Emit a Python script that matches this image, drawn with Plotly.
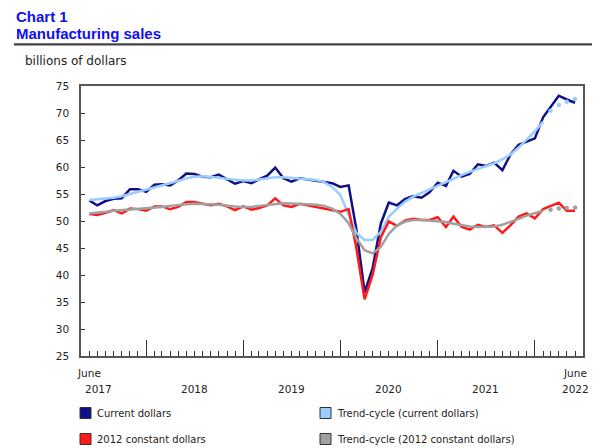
import pandas as pd
import plotly.graph_objects as go

# ---------------- data ----------------
months = pd.date_range("2017-06-01", "2022-06-01", freq="MS")

current_dollars = [
    53.8, 52.9, 53.7, 54.1, 54.2, 55.9, 55.9, 55.4, 56.7, 56.8,
    56.6, 57.5, 58.8, 58.7, 58.2, 58.1, 58.6, 57.7, 56.9, 57.4,
    57.0, 57.7, 58.4, 59.9, 57.9, 57.3, 57.9, 57.7, 57.5, 57.2,
    57.0, 56.3, 56.6, 48.5, 36.8, 41.2, 49.5, 53.4, 52.9, 54.1,
    54.6, 54.3, 55.3, 57.1, 56.5, 59.3, 58.2, 58.7, 60.5, 60.2,
    60.8, 59.4, 62.3, 64.1, 64.7, 65.3, 69.2, 71.2, 73.2, 72.5,
    71.9,
]
trend_current = [
    53.9, 54.0, 54.1, 54.3, 54.6, 55.0, 55.4, 55.8, 56.2, 56.6,
    57.0, 57.4, 57.9, 58.2, 58.3, 58.2, 58.0, 57.8, 57.6, 57.5,
    57.5, 57.7, 57.9, 58.1, 58.1, 58.0, 57.9, 57.8, 57.6, 57.2,
    56.3, 54.8, 51.2, 47.8, 46.5, 46.5, 48.0, 50.8, 52.3, 53.6,
    54.5, 55.2, 55.9, 56.5, 57.2, 57.9, 58.5, 59.1, 59.6, 60.1,
    60.7, 61.4, 62.3, 63.6, 65.0, 66.6, 68.4, 70.4, 71.5, 72.1,
    72.6,
]
constant_dollars = [
    51.3, 51.1, 51.5, 52.0, 51.4, 52.3, 52.2, 51.9, 52.7, 52.7,
    52.2, 52.6, 53.5, 53.5, 53.2, 52.9, 53.2, 52.7, 52.0, 52.7,
    52.1, 52.4, 52.9, 54.2, 52.9, 52.6, 53.2, 52.9, 52.6, 52.3,
    52.0, 51.7, 52.2, 45.0, 35.5, 40.0, 47.0, 49.9, 49.1, 50.1,
    50.4, 50.2, 50.2, 50.7, 48.9, 50.8, 48.9, 48.4, 49.3, 48.9,
    49.2, 47.8, 49.2, 50.8, 51.4, 50.5, 52.2, 52.8, 53.4, 51.9,
    51.9,
]
trend_constant = [
    51.4, 51.5, 51.7, 51.9, 52.0, 52.1, 52.2, 52.3, 52.5, 52.6,
    52.8, 53.0, 53.1, 53.2, 53.2, 53.1, 53.0, 52.8, 52.7, 52.6,
    52.6, 52.8, 53.0, 53.2, 53.3, 53.25, 53.2, 53.1, 53.0, 52.8,
    52.3, 51.3, 49.6, 46.8, 44.6, 44.0, 45.2, 47.6, 49.2, 49.9,
    50.2, 50.2, 50.1, 50.0, 49.8, 49.5, 49.2, 49.0, 48.9, 48.9,
    49.0, 49.3, 49.8, 50.4, 51.0, 51.5, 51.9, 52.1, 52.3, 52.4,
    52.5,
]
provisional_from = 57  # trend-cycle points shown dotted from this month index

series_names = ["Current dollars", "Trend-cycle (current dollars)",
                "2012 constant dollars", "Trend-cycle (2012 constant dollars)"]
year_labels = ["2017", "2018", "2019", "2020", "2021", "2022"]
year_label_dates = ["2017-07-05", "2018-07-01", "2019-07-01",
                    "2020-07-01", "2021-07-01", "2022-06-01"]
month_labels = ["June", "June"]
month_label_dates = ["2017-06-01", "2022-06-01"]

# ---------------- style ----------------
NAVY = "#0f0f87"
LIGHT = "#99ccff"
RED = "#ff1a1a"
GRAY = "#a0a0a0"
TXT = "#222222"
FONT = "DejaVu Sans"

OFF = 8  # page body margin: figure origin sits at page (8, 8)
W, H = 600 - OFF, 448 - OFF
L, R, T, B = 81 - OFF, 583 - OFF, 86 - OFF, 356 - OFF


def pxx(p):
    """page x pixel -> paper coordinate"""
    return (p - OFF - L) / (R - L)


def pyy(p):
    """page y pixel -> paper coordinate"""
    return (B - (p - OFF)) / (B - T)


fig = go.Figure()

fig.add_trace(go.Scatter(x=months, y=current_dollars, mode="lines",
                         line=dict(color=NAVY, width=2.5), name=series_names[0]))
fig.add_trace(go.Scatter(x=months[:provisional_from], y=trend_current[:provisional_from],
                         mode="lines", line=dict(color=LIGHT, width=2.5),
                         name=series_names[1]))
fig.add_trace(go.Scatter(x=months[provisional_from:], y=trend_current[provisional_from:],
                         mode="markers", marker=dict(color=LIGHT, size=4.5),
                         name=series_names[1]))
fig.add_trace(go.Scatter(x=months, y=constant_dollars, mode="lines",
                         line=dict(color=RED, width=2.5), name=series_names[2]))
fig.add_trace(go.Scatter(x=months[:provisional_from], y=trend_constant[:provisional_from],
                         mode="lines", line=dict(color=GRAY, width=2.5),
                         name=series_names[3]))
fig.add_trace(go.Scatter(x=months[provisional_from:], y=trend_constant[provisional_from:],
                         mode="markers", marker=dict(color=GRAY, size=4.5),
                         name=series_names[3]))

annotations = [
    dict(text="<b>Chart 1</b>", x=pxx(14), y=pyy(16.5), xref="paper", yref="paper",
         xanchor="left", yanchor="middle", showarrow=False,
         font=dict(family="Liberation Sans", size=15, color="#1010f0")),
    dict(text="<b>Manufacturing sales</b>", x=pxx(14), y=pyy(33), xref="paper", yref="paper",
         xanchor="left", yanchor="middle", showarrow=False,
         font=dict(family="Liberation Sans", size=15, color="#1010f0")),
    dict(text="billions of dollars", x=pxx(23), y=pyy(61), xref="paper", yref="paper",
         xanchor="left", yanchor="middle", showarrow=False,
         font=dict(family=FONT, size=12, color=TXT)),
]
for lab, d in zip(month_labels, month_label_dates):
    annotations.append(dict(text=lab, x=d, y=pyy(373), xref="x", yref="paper",
                            xanchor="center", yanchor="middle", showarrow=False,
                            font=dict(family=FONT, size=10.5, color=TXT)))
for lab, d in zip(year_labels, year_label_dates):
    annotations.append(dict(text=lab, x=d, y=pyy(388.5), xref="x", yref="paper",
                            xanchor="center", yanchor="middle", showarrow=False,
                            font=dict(family=FONT, size=10.5, color=TXT)))

# legend (manual, square swatches)
legend_colors = [NAVY, LIGHT, RED, GRAY]
legend_pos = [(80, 413), (320, 413), (80, 439), (320, 439)]
shapes = [dict(type="line", xref="paper", yref="paper", x0=pxx(14), x1=pxx(600),
               y0=pyy(44.3), y1=pyy(44.3), line=dict(color="#444444", width=2.2))]
for name, col, (lx, ly) in zip(series_names, legend_colors, legend_pos):
    shapes.append(dict(type="rect", xref="paper", yref="paper",
                       x0=pxx(lx), x1=pxx(lx + 11), y0=pyy(ly + 5.5), y1=pyy(ly - 5.5),
                       fillcolor=col, line=dict(color="#333333", width=1)))
    annotations.append(dict(text=name, x=pxx(lx + 15), y=pyy(ly), xref="paper", yref="paper",
                            xanchor="left", yanchor="middle", showarrow=False,
                            font=dict(family=FONT, size=10, color=TXT)))

fig.update_layout(
    width=W, height=H,
    margin=dict(l=L, r=W - R, t=T, b=H - B, pad=0),
    paper_bgcolor="white", plot_bgcolor="white",
    showlegend=False,
    annotations=annotations,
    shapes=shapes,
    font=dict(family=FONT, color=TXT),
    xaxis=dict(
        type="date",
        range=["2017-05-01", "2022-07-01"],
        showgrid=False, zeroline=False,
        showline=True, linecolor="#555555", linewidth=1.5, mirror=True,
        ticks="inside", ticklen=16, tickwidth=1, tickcolor="#333333",
        tick0="2018-01-01", dtick="M12",
        showticklabels=False,
        minor=dict(ticks="inside", ticklen=5, tickwidth=1, tickcolor="#333333",
                   dtick="M1", tick0="2017-06-01", showgrid=False),
    ),
    yaxis=dict(
        range=[25, 75], dtick=5, tick0=25,
        showgrid=False, zeroline=False,
        showline=True, linecolor="#555555", linewidth=1.5, mirror=True,
        ticks="inside", ticklen=4, tickwidth=1, tickcolor="#333333",
        ticklabelstandoff=8,
        tickfont=dict(family=FONT, size=10.5, color=TXT),
    ),
)

fig.write_html("out.html")
